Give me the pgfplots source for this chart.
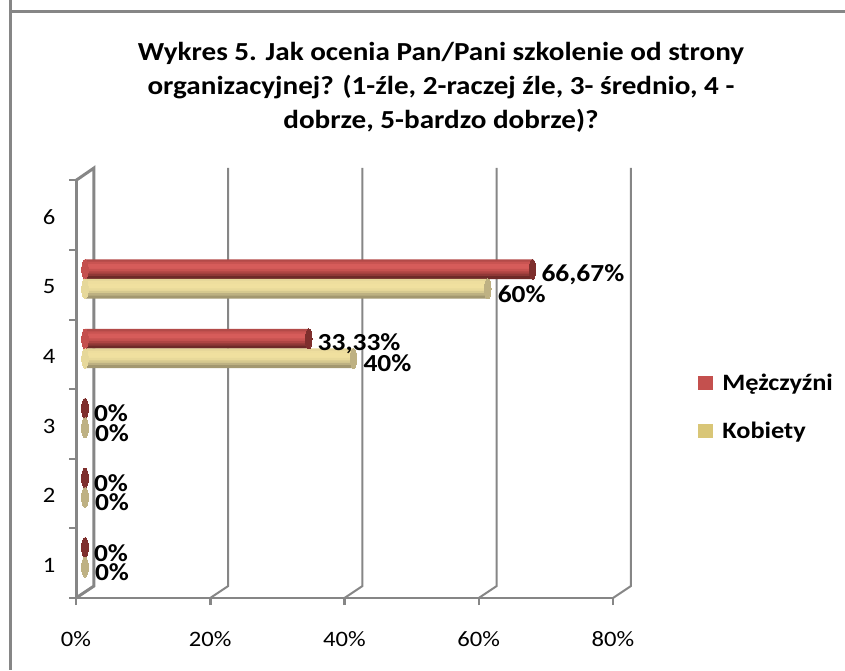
\documentclass[border=0pt]{standalone}
\usepackage{fontspec}
\setmainfont[FakeStretch=1.12]{Carlito}
\usepackage{pgfplots}
\pgfplotsset{compat=1.18}

\definecolor{wall}{HTML}{868686}
\definecolor{capred}{HTML}{7E2F2D}
\definecolor{capyel}{HTML}{BEB183}
\definecolor{redend}{HTML}{C4504E}
\definecolor{yelend}{HTML}{E6D89A}
\definecolor{yelswatch}{HTML}{D9C677}

% cylinder look: each bar is a stack of thin bars, top to bottom
\definecolor{ra}{HTML}{B34A48}
\definecolor{rb}{HTML}{C95452}
\definecolor{rc}{HTML}{D65C5A}
\definecolor{rd}{HTML}{D65C5A}
\definecolor{re}{HTML}{C65250}
\definecolor{rf}{HTML}{AE4543}
\definecolor{rg}{HTML}{8F3836}
\definecolor{rh}{HTML}{6E2A28}
\definecolor{ya}{HTML}{E6D79A}
\definecolor{yb}{HTML}{EEDE9E}
\definecolor{yc}{HTML}{F0E09F}
\definecolor{yd}{HTML}{F0E09F}
\definecolor{ye}{HTML}{E8D99A}
\definecolor{yf}{HTML}{D6C98F}
\definecolor{yg}{HTML}{BDB182}
\definecolor{yh}{HTML}{A39870}
\newcommand{\band}[3]{\addplot[xbar,bar width=3pt,bar shift=0pt,draw=none,fill=#1,
  xshift=9pt,yshift=#2,forget plot] table[x=x,y=y] {#3};}

% men / women, nonzero bars and all values
\pgfplotstableread{
y x
1 0
2 0
3 0
4 33.33
5 66.67
}\menall
\pgfplotstableread{
y x
1 0
2 0
3 0
4 40
5 60
}\womenall
\pgfplotstableread{
y x
4 33.33
5 66.67
}\menbars
\pgfplotstableread{
y x
4 40
5 60
}\womenbars

\begin{document}
\begin{tikzpicture}[x=1pt,y=1pt]
\useasboundingbox (0,0) rectangle (845,670);
\draw[wall,line width=3pt] (10.5,670) -- (10.5,0);
\draw[wall,line width=3pt] (9,658.5) -- (845,658.5);
\begin{axis}[
  at={(76pt,72pt)},
  anchor=south west,
  scale only axis,
  width=556pt,
  height=430pt,
  xmin=0, xmax=82.83,
  ymin=0.5, ymax=6.678,
  clip=false,
  axis line style={draw=none},
  xtick={0,20,40,60,80},
  xticklabels={0\%,20\%,40\%,60\%,80\%},
  ytick={1,2,3,4,5,6},
  yticklabels={1,2,3,4,5,6},
  minor ytick={0.5,1.5,2.5,3.5,4.5,5.5,6.5},
  xtick pos=bottom,
  ytick pos=left,
  tick align=outside,
  major tick length=7pt,
  minor tick length=7pt,
  x tick style={wall,line width=2.5pt},
  y tick style={draw=none},
  minor y tick style={draw=wall,line width=2pt},
  x tick label style={font=\fontsize{22}{24}\selectfont,yshift=-23pt},
  y tick label style={font=\fontsize{22}{24}\selectfont,xshift=-10pt,yshift=-2pt},
  title={Wykres 5. Jak ocenia Pan/Pani szkolenie od strony\\organizacyjnej? (1-źle, 2-raczej źle, 3- średnio, 4 -\\dobrze, 5-bardzo dobrze)?},
  title style={at={(0.6565,1.280)},anchor=north,align=center,inner sep=0pt,
    font=\bfseries\fontsize{26}{34}\selectfont},
  legend style={draw=none,fill=none,at={(1.119,0.527)},anchor=north west,
    font=\bfseries\fontsize{23.5}{25}\selectfont,row sep=26pt,inner sep=0pt,
    /tikz/column 1/.style={column sep=7pt}},
  legend cell align=left,
]
% walls and grid
\addplot[wall,line width=3pt,forget plot] coordinates {(0,0.5) (0,6.5)};
\addplot[wall,line width=2.5pt,forget plot] coordinates {(0,0.5) (80,0.5)};
\addplot[wall,line width=3pt,forget plot] coordinates {(0,6.5) (2.68,6.678) (2.68,0.672) (0,0.5)};
\addplot[wall,line width=2pt,forget plot] coordinates {(20,0.5) (22.68,0.672) (22.68,6.678)};
\addplot[wall,line width=2pt,forget plot] coordinates {(40,0.5) (42.68,0.672) (42.68,6.678)};
\addplot[wall,line width=2pt,forget plot] coordinates {(60,0.5) (62.68,0.672) (62.68,6.678)};
\addplot[wall,line width=2pt,forget plot] coordinates {(80,0.5) (82.68,0.672) (82.68,6.678)};

% rounded starts of the long bars
\addplot[only marks,mark=*,mark size=9.75pt,mark options={xscale=0.33,draw=redend,fill=redend,line width=0pt},
  xshift=9pt,yshift=15.5pt,forget plot] table[x=z,y=y] {
y z
4 0
5 0
};
\addplot[only marks,mark=*,mark size=9.75pt,mark options={xscale=0.33,draw=yelend,fill=yelend,line width=0pt},
  xshift=9pt,yshift=-4pt,forget plot] table[x=z,y=y] {
y z
4 0
5 0
};

% bars
\band{ra}{24pt}{\menbars}
\band{rb}{21.6pt}{\menbars}
\band{rc}{19.2pt}{\menbars}
\band{rd}{16.8pt}{\menbars}
\band{re}{14.4pt}{\menbars}
\band{rf}{12pt}{\menbars}
\band{rg}{9.6pt}{\menbars}
\band{rh}{7.2pt}{\menbars}
\band{ya}{4.5pt}{\womenbars}
\band{yb}{2.1pt}{\womenbars}
\band{yc}{-0.3pt}{\womenbars}
\band{yd}{-2.7pt}{\womenbars}
\band{ye}{-5.1pt}{\womenbars}
\band{yf}{-7.5pt}{\womenbars}
\band{yg}{-9.9pt}{\womenbars}
\band{yh}{-12.3pt}{\womenbars}

% end caps and labels
\addplot[only marks,mark=*,mark size=10pt,mark options={xscale=0.33,draw=capred,fill=capred,line width=0pt},
  xshift=9pt,yshift=15.5pt,forget plot,
  point meta=x,
  nodes near coords={\pgfmathprintnumber[use comma,fixed,precision=2,assume math mode=true]{\pgfplotspointmeta}\%},
  nodes near coords align={anchor=west},
  every node near coord/.append style={font=\bfseries\fontsize{24.5}{25}\selectfont,black,
    inner sep=0pt,xshift=9pt,yshift=-5pt}] table[x=x,y=y] {\menall};
\addplot[only marks,mark=*,mark size=10pt,mark options={xscale=0.33,draw=capyel,fill=capyel,line width=0pt},
  xshift=9pt,yshift=-4pt,forget plot,
  point meta=x,
  nodes near coords={\pgfmathprintnumber[use comma,fixed,precision=2,assume math mode=true]{\pgfplotspointmeta}\%},
  nodes near coords align={anchor=west},
  every node near coord/.append style={font=\bfseries\fontsize{24.5}{25}\selectfont,black,
    inner sep=0pt,xshift=10pt,yshift=-5pt}] table[x=x,y=y] {\womenall};

\addlegendimage{legend image code/.code={\path[fill=redend,draw=none] (0pt,-7pt) rectangle (15pt,7pt);}}
\addlegendentry{Mężczyźni}
\addlegendimage{legend image code/.code={\path[fill=yelswatch,draw=none] (0pt,-7pt) rectangle (15pt,7pt);}}
\addlegendentry{Kobiety}
\end{axis}
\end{tikzpicture}
\end{document}
